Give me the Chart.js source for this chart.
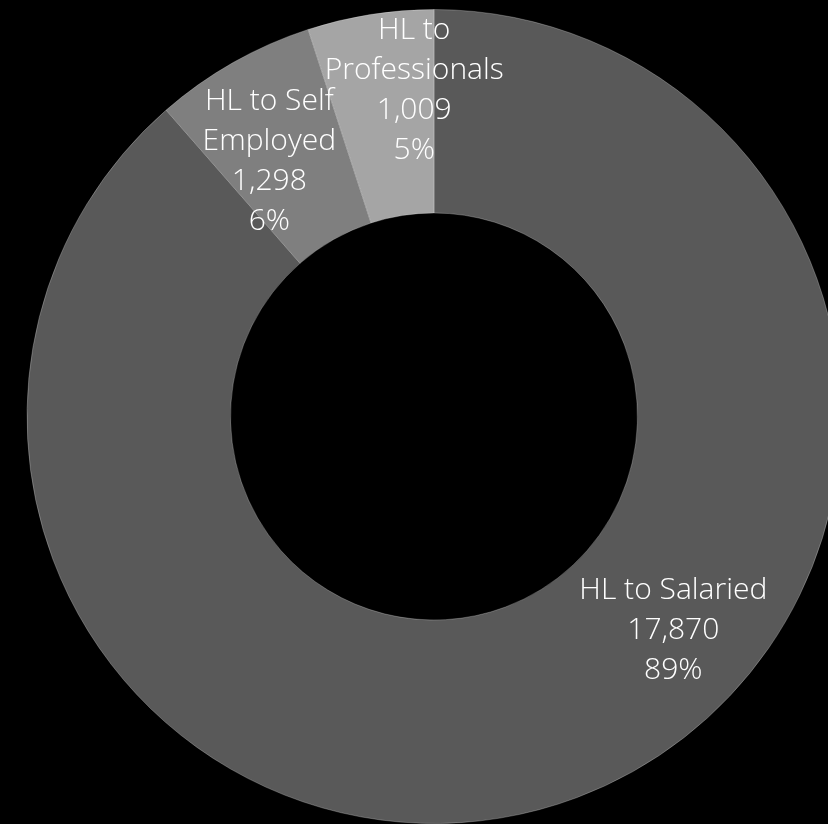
<!DOCTYPE html>
<html>
<head>
<meta charset="utf-8">
<script src="https://cdn.jsdelivr.net/npm/chart.js@4/dist/chart.umd.min.js"></script>
<style>
  html, body { margin: 0; padding: 0; background: #000; overflow: hidden; }
  #wrap { width: 828px; height: 824px; overflow: hidden; position: relative; }
  canvas { display: block; }
</style>
</head>
<body>
<div id="wrap"><canvas id="c" width="868" height="824"></canvas></div>
<script>
// ---- data ----
const categories = ["HL to Salaried", "HL to Self Employed", "HL to Professionals"];
const labelLines = [["HL to Salaried"], ["HL to Self", "Employed"], ["HL to", "Professionals"]];
const loanCounts = [17870, 1298, 1009];
const sliceColors = ["#595959", "#7f7f7f", "#a5a5a5"];
// label placement relative to each slice's centroid (dx, dy in px)
const labelOffsets = [[132, -72], [-14, 10], [28, -25]];

const total = loanCounts.reduce((a, b) => a + b, 0);
const fmt = n => n.toLocaleString('en-US');

const labelPlugin = {
  id: 'sliceLabels',
  afterDatasetsDraw(chart) {
    const ctx = chart.ctx;
    const meta = chart.getDatasetMeta(0);
    const fontSize = 30, lineH = 40;
    ctx.save();
    ctx.fillStyle = '#ffffff';
    ctx.textAlign = 'center';
    ctx.textBaseline = 'middle';
    ctx.font = '300 ' + fontSize + 'px "Open Sans", "Noto Sans", sans-serif';
    meta.data.forEach((arc, i) => {
      const p = arc.tooltipPosition();
      const lines = labelLines[i].concat([fmt(loanCounts[i]), Math.round(loanCounts[i] / total * 100) + '%']);
      const cx = p.x + labelOffsets[i][0];
      const cy = p.y + labelOffsets[i][1];
      const startY = cy - (lines.length - 1) * lineH / 2;
      lines.forEach((t, k) => ctx.fillText(t, cx, startY + k * lineH));
    });
    ctx.restore();
  }
};

new Chart(document.getElementById('c'), {
  type: 'doughnut',
  data: {
    labels: categories,
    datasets: [{
      data: loanCounts,
      backgroundColor: sliceColors,
      borderColor: 'rgba(255,255,255,0.25)',
      borderWidth: 1
    }]
  },
  options: {
    responsive: false,
    animation: false,
    events: [],
    cutout: '50%',
    layout: { padding: { top: 9 } },
    plugins: { legend: { display: false }, tooltip: { enabled: false } }
  },
  plugins: [labelPlugin]
});
</script>
</body>
</html>
